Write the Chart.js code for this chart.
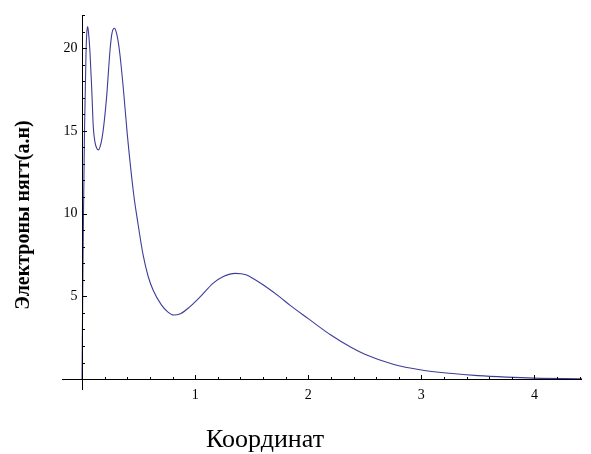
<!DOCTYPE html>
<html>
<head>
<meta charset="utf-8">
<script src="https://cdn.jsdelivr.net/npm/chart.js@4/dist/chart.umd.min.js"></script>
<style>
  html, body { margin: 0; padding: 0; background: #fff; }
  #wrap { width: 591px; height: 454px; }
</style>
</head>
<body>
<div id="wrap"><canvas id="densityChart" width="591" height="454"></canvas></div>
<script>
// values
const coordX = [0, 0.006, 0.013, 0.022, 0.035, 0.042, 0.05, 0.058, 0.07, 0.086, 0.1, 0.115, 0.13, 0.145, 0.16,
    0.178, 0.197, 0.218, 0.248, 0.265, 0.286, 0.305, 0.33, 0.366, 0.40, 0.456, 0.49, 0.54, 0.585, 0.63, 0.70,
    0.76, 0.81, 0.87, 0.95, 1.046, 1.16, 1.25, 1.356, 1.45, 1.52, 1.61, 1.75, 1.84, 2.0, 2.2, 2.37,
    2.5, 2.75, 3.0, 3.25, 3.5, 3.75, 4.0, 4.42];
const density = [0, 5, 10, 15, 19.6, 20.9, 21.3, 20.9, 19.8, 17.5, 15.2, 14.3, 13.95, 13.85, 14.05,
    14.6, 15.6, 17.1, 19.9, 20.9, 21.2, 20.9, 19.9, 17.5, 14.8, 11.2, 9.6, 7.5, 6.2, 5.35, 4.5,
    4.05, 3.87, 3.95, 4.35, 4.98, 5.8, 6.2, 6.39, 6.3, 6.05, 5.65, 4.95, 4.45, 3.65, 2.66, 1.95,
    1.5, 0.9, 0.55, 0.35, 0.21, 0.12, 0.06, 0.02];

const xTicks = [1, 2, 3, 4];
const yTicks = [5, 10, 15, 20];
const xMinorStep = 0.2;
const yMinorStep = 1;

const xTitle = 'Координат';
const yTitle = 'Электроны нягт(а.н)';

const points = coordX.map((x, i) => ({ x: x, y: density[i] }));

// Mathematica style axes crossing at the origin
const axesPlugin = {
    id: 'originAxes',
    afterDatasetsDraw(chart) {
        const ctx = chart.ctx;
        const xs = chart.scales.x;
        const ys = chart.scales.y;
        const area = chart.chartArea;
        const x0 = Math.round(xs.getPixelForValue(0)) + 0.5;
        const y0 = Math.round(ys.getPixelForValue(0)) + 0.5;

        ctx.save();
        ctx.strokeStyle = '#000';
        ctx.lineWidth = 1;
        ctx.beginPath();
        ctx.moveTo(area.left, y0);
        ctx.lineTo(area.right, y0);
        ctx.moveTo(x0, area.top);
        ctx.lineTo(x0, area.bottom);

        // x ticks
        for (let v = xMinorStep; v <= xs.max + 1e-9; v += xMinorStep) {
            const isMajor = xTicks.some(t => Math.abs(t - v) < 1e-6);
            const px = Math.round(xs.getPixelForValue(v)) + 0.5;
            ctx.moveTo(px, y0);
            ctx.lineTo(px, y0 - (isMajor ? 4.5 : 2.5));
        }
        // y ticks
        for (let v = yMinorStep; v <= ys.max + 1e-9; v += yMinorStep) {
            const isMajor = yTicks.some(t => Math.abs(t - v) < 1e-6);
            const py = Math.round(ys.getPixelForValue(v)) + 0.5;
            ctx.moveTo(x0, py);
            ctx.lineTo(x0 + (isMajor ? 4.5 : 2.5), py);
        }
        ctx.stroke();

        ctx.fillStyle = '#000';
        ctx.font = '14px "Liberation Serif", serif';
        ctx.textAlign = 'center';
        ctx.textBaseline = 'top';
        xTicks.forEach(t => ctx.fillText(String(t), xs.getPixelForValue(t), y0 + 9));
        ctx.textAlign = 'right';
        ctx.textBaseline = 'middle';
        yTicks.forEach(t => ctx.fillText(String(t), x0 - 5, ys.getPixelForValue(t)));

        // titles
        ctx.textAlign = 'center';
        ctx.textBaseline = 'alphabetic';
        ctx.font = '26px "Liberation Serif", serif';
        ctx.fillText(xTitle, 265, 447);

        ctx.translate(29, 215);
        ctx.rotate(-Math.PI / 2);
        ctx.font = 'bold 20px "Liberation Serif", serif';
        ctx.fillText(yTitle, 0, 0);
        ctx.restore();
    }
};

new Chart(document.getElementById('densityChart').getContext('2d'), {
    type: 'scatter',
    data: {
        datasets: [{
            data: points,
            showLine: true,
            borderColor: '#3d3d99',
            borderWidth: 1.1,
            pointRadius: 0,
            cubicInterpolationMode: 'monotone',
            fill: false
        }]
    },
    options: {
        responsive: false,
        animation: false,
        layout: { padding: { left: 62, right: 9, top: 15, bottom: 64 } },
        scales: {
            x: { type: 'linear', min: -0.177, max: 4.42, display: false },
            y: { type: 'linear', min: -0.66, max: 22, display: false }
        },
        plugins: {
            legend: { display: false },
            tooltip: { enabled: false }
        }
    },
    plugins: [axesPlugin]
});
</script>
</body>
</html>
